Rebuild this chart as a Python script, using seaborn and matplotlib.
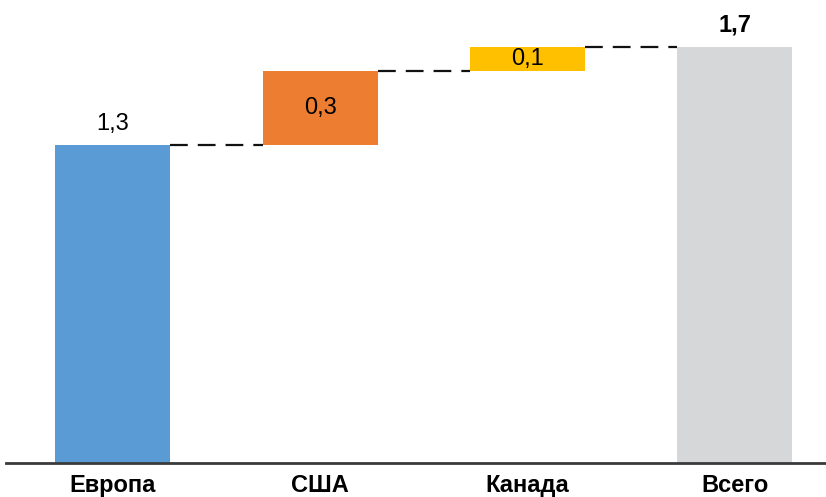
import matplotlib
matplotlib.use("Agg")
import matplotlib.pyplot as plt
import seaborn as sns
import numpy as np

# Waterfall data
categories = ["Европа", "США", "Канада", "Всего"]
values = [1.3, 0.3, 0.1, 1.7]
colors = ["#5B9BD5", "#ED7D31", "#FFC000", "#D6D7D9"]
is_total = [False, False, False, True]

# Floating bar bottoms: running sum for the components, zero for the total
bottoms = []
running = 0.0
for v, t in zip(values, is_total):
    if t:
        bottoms.append(0.0)
    else:
        bottoms.append(running)
        running += v
tops = [b + v for b, v in zip(bottoms, values)]

sns.set_theme(style="white")
plt.rcParams["font.family"] = ["Liberation Sans", "DejaVu Sans"]

fig = plt.figure(figsize=(8.26, 4.97), dpi=100)
ax = fig.add_axes([6 / 826, 34 / 497, 820 / 826, 463 / 497])

bar_w = 0.555
sns.barplot(x=categories, y=tops, hue=categories, palette=colors,
            width=bar_w, legend=False, ax=ax, saturation=1, linewidth=0)

for patch, b, v in zip(ax.patches, bottoms, values):
    patch.set_y(b)
    patch.set_height(v)

# Dashed connectors between consecutive bars
for i in range(len(categories) - 1):
    ax.plot([i + bar_w / 2, i + 1 - bar_w / 2], [tops[i], tops[i]],
            color="#111111", lw=1.6, ls=(0, (8, 4.5)), zorder=3)

# Value labels
fmt = lambda v: f"{v:.1f}".replace(".", ",")
for i, (b, v, t) in enumerate(zip(bottoms, values, is_total)):
    if i == 0:
        ax.text(i, b + v + 0.04, fmt(v), ha="center", va="bottom",
                fontsize=17, color="#000000")
    elif t:
        ax.text(i, b + v + 0.04, fmt(v), ha="center", va="bottom",
                fontsize=17, fontweight="bold", color="#000000")
    else:
        ax.text(i, b + v / 2, fmt(v), ha="center", va="center",
                fontsize=17, color="#000000")

ax.set_xlim(-0.516, 3.44)
ax.set_ylim(0, 1.89)
ax.set_yticks([])
ax.set_xlabel("")
ax.set_ylabel("")
for s in ["top", "right", "left"]:
    ax.spines[s].set_visible(False)
ax.spines["bottom"].set_color("#3a3a3a")
ax.spines["bottom"].set_linewidth(2)
ax.tick_params(axis="x", length=0, pad=8)
for lab in ax.get_xticklabels():
    lab.set_fontsize(17)
    lab.set_fontweight("bold")
    lab.set_color("#000000")

fig.savefig("out.png", dpi=100, facecolor="white")
